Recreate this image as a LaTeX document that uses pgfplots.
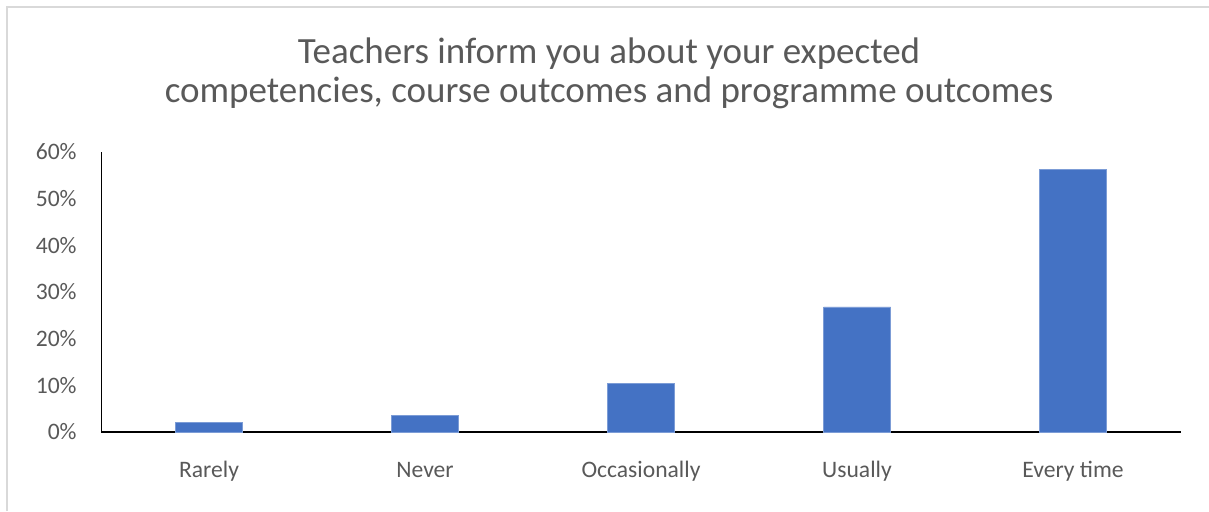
\documentclass[border=0pt]{standalone}
\usepackage{pgfplots}
\pgfplotsset{compat=1.18}
\usepackage{fontspec}
\setmainfont{Carlito}
\definecolor{barblue}{RGB}{68,114,196}
\definecolor{txtgray}{RGB}{89,89,89}
\definecolor{framegray}{RGB}{217,217,217}

\begin{document}
\begin{tikzpicture}
  % 1 px of the reference = 0.5pt
  \useasboundingbox (0,0) rectangle (604.5pt,255.5pt);
  \draw[framegray, line width=1pt] (3.5pt,0pt) -- (3.5pt,252pt) -- (604.5pt,252pt);

  \node[anchor=base, text=txtgray, font=\fontsize{18.5}{22}\selectfont] at (304.5pt,224pt)
    {Teachers inform you about your expected};
  \node[anchor=base, text=txtgray, font=\fontsize{18.5}{22}\selectfont] at (304.5pt,204.5pt)
    {competencies, course outcomes and programme outcomes};

  \begin{axis}[
      at={(50.5pt,39.5pt)}, anchor=south west,
      scale only axis,
      width=540pt, height=140pt,
      xmin=-0.5, xmax=4.5,
      ymin=0, ymax=60,
      ytick={0,10,20,30,40,50,60},
      xtick=data,
      xticklabels={Rarely, Never, Occasionally, Usually, Every time},
      major tick length=0pt,
      axis x line=bottom, axis y line=left,
      axis line style={-},
      x axis line style={line width=1pt, black},
      y axis line style={line width=0.5pt, black},
      yticklabel={\pgfmathprintnumber{\tick}\%},
      /pgf/number format/assume math mode=true,
      ticklabel style={text=txtgray, font=\fontsize{11.8}{14}\selectfont},
      yticklabel style={anchor=east, inner sep=0pt, xshift=-12pt},
      xticklabel style={anchor=base, inner sep=0pt, yshift=-22.5pt},
      ybar, bar width=33.5pt,
    ]
    \addplot[fill=barblue, draw=barblue!70!white, line width=0.3pt]
      coordinates {(0,2.1) (1,3.6) (2,10.5) (3,26.8) (4,56.3)};
  \end{axis}
\end{tikzpicture}
\end{document}
